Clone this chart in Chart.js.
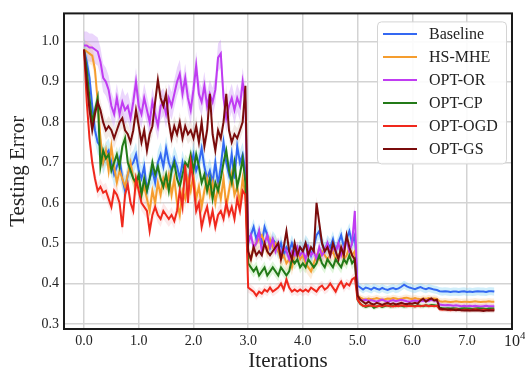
<!DOCTYPE html>
<html>
<head>
<meta charset="utf-8">
<script src="https://cdn.jsdelivr.net/npm/chart.js@4.4.1/dist/chart.umd.min.js"></script>
<style>
html, body { margin: 0; padding: 0; background: #fff; }
#wrap { width: 525px; height: 374px; }
</style>
</head>
<body>
<div id="wrap"><canvas id="errorChart" width="525" height="374"></canvas></div>
<script>
// one sample every 500 iterations, x axis is in units of 1e4
const step = 0.05;
const xTicks = [0, 1, 2, 3, 4, 5, 6, 7];
const yTicks = [0.3, 0.4, 0.5, 0.6, 0.7, 0.8, 0.9, 1.0];

const baseline = [
  0.98, 0.95, 0.91, 0.84, 0.78, 0.75, 0.74, 0.70, 0.72, 0.73,
  0.70, 0.67, 0.69, 0.71, 0.66, 0.63, 0.67, 0.69, 0.70, 0.72,
  0.68, 0.66, 0.69, 0.63, 0.66, 0.68, 0.65, 0.70, 0.72, 0.69,
  0.735, 0.70, 0.68, 0.71, 0.69, 0.66, 0.70, 0.67, 0.64, 0.69,
  0.72, 0.68, 0.70, 0.735, 0.69, 0.66, 0.68, 0.65, 0.70, 0.646,
  0.69, 0.75, 0.70, 0.67, 0.72, 0.66, 0.74, 0.70, 0.72, 0.68,
  0.51, 0.52, 0.54, 0.51, 0.53, 0.50, 0.54, 0.52, 0.49, 0.51,
  0.50, 0.48, 0.50, 0.47, 0.49, 0.48, 0.50, 0.48, 0.47, 0.49,
  0.48, 0.50, 0.49, 0.47, 0.49, 0.52, 0.53, 0.50, 0.48, 0.50,
  0.49, 0.51, 0.48, 0.50, 0.52, 0.49, 0.51, 0.53, 0.50, 0.52,
  0.395, 0.39, 0.385, 0.39, 0.388, 0.385, 0.39, 0.387, 0.385, 0.389,
  0.386, 0.384, 0.387, 0.389, 0.386, 0.388, 0.392, 0.397, 0.393, 0.39,
  0.388, 0.386, 0.389, 0.391, 0.388, 0.386, 0.389, 0.387, 0.385, 0.384,
  0.381, 0.380, 0.381, 0.380, 0.379, 0.380, 0.380, 0.379, 0.380, 0.381,
  0.379, 0.380, 0.379, 0.380, 0.381, 0.380, 0.380, 0.379, 0.381, 0.381,
  0.380
];

const hsMhe = [
  0.98, 0.975, 0.97, 0.965, 0.93, 0.85, 0.76, 0.70, 0.73, 0.68,
  0.74, 0.69, 0.65, 0.68, 0.66, 0.64, 0.67, 0.70, 0.66, 0.64,
  0.66, 0.62, 0.64, 0.61, 0.58, 0.63, 0.60, 0.65, 0.62, 0.66,
  0.64, 0.67, 0.62, 0.66, 0.60, 0.57, 0.63, 0.61, 0.66, 0.63,
  0.67, 0.61, 0.64, 0.59, 0.63, 0.66, 0.62, 0.65, 0.60, 0.64,
  0.61, 0.66, 0.59, 0.63, 0.67, 0.62, 0.64, 0.60, 0.66, 0.62,
  0.47, 0.46, 0.49, 0.50, 0.51, 0.52, 0.50, 0.48, 0.51, 0.49,
  0.50, 0.48, 0.46, 0.47, 0.45, 0.46, 0.44, 0.47, 0.48, 0.46,
  0.47, 0.45, 0.44, 0.43, 0.45, 0.47, 0.46, 0.48, 0.47, 0.46,
  0.47, 0.48, 0.46, 0.47, 0.48, 0.46, 0.47, 0.49, 0.47, 0.48,
  0.37, 0.365, 0.362, 0.36, 0.363, 0.361, 0.362, 0.364, 0.362, 0.36,
  0.361, 0.363, 0.362, 0.364, 0.363, 0.361, 0.362, 0.364, 0.365, 0.363,
  0.362, 0.364, 0.362, 0.361, 0.363, 0.362, 0.364, 0.362, 0.363, 0.362,
  0.356, 0.355, 0.356, 0.355, 0.354, 0.355, 0.356, 0.355, 0.354, 0.355,
  0.355, 0.354, 0.355, 0.356, 0.355, 0.354, 0.355, 0.355, 0.356, 0.355,
  0.355
];

const optOr = [
  0.99, 0.99, 0.985, 0.985, 0.98, 0.975, 0.95, 0.91, 0.90, 0.88,
  0.84, 0.82, 0.86, 0.82, 0.85, 0.83, 0.84, 0.81, 0.85, 0.90,
  0.84, 0.82, 0.86, 0.83, 0.80, 0.85, 0.82, 0.79, 0.84, 0.85,
  0.82, 0.86, 0.84, 0.87, 0.90, 0.92, 0.87, 0.91, 0.86, 0.83,
  0.88, 0.94, 0.87, 0.85, 0.89, 0.84, 0.87, 0.85, 0.88, 0.96,
  0.97, 0.86, 0.81, 0.84, 0.86, 0.83, 0.86, 0.84, 0.90, 0.85,
  0.50, 0.52, 0.49, 0.50, 0.53, 0.48, 0.50, 0.52, 0.49, 0.51,
  0.48, 0.50, 0.47, 0.49, 0.48, 0.46, 0.48, 0.47, 0.49, 0.47,
  0.48, 0.46, 0.49, 0.47, 0.48, 0.46, 0.49, 0.47, 0.48, 0.50,
  0.47, 0.49, 0.48, 0.50, 0.47, 0.49, 0.51, 0.48, 0.50, 0.58,
  0.365, 0.36, 0.358, 0.36, 0.357, 0.359, 0.357, 0.355, 0.358, 0.36,
  0.357, 0.355, 0.357, 0.359, 0.356, 0.358, 0.36, 0.358, 0.356, 0.355,
  0.357, 0.358, 0.356, 0.358, 0.357, 0.359, 0.357, 0.36, 0.358, 0.357,
  0.348, 0.347, 0.346, 0.347, 0.346, 0.345, 0.346, 0.345, 0.344, 0.345,
  0.344, 0.345, 0.344, 0.345, 0.344, 0.343, 0.344, 0.345, 0.344, 0.344,
  0.344
];

const optCp = [
  0.98, 0.93, 0.86, 0.80, 0.83, 0.86, 0.69, 0.73, 0.71, 0.72,
  0.68, 0.70, 0.72, 0.69, 0.74, 0.76, 0.70, 0.68, 0.66, 0.65,
  0.67, 0.62, 0.66, 0.63, 0.66, 0.70, 0.67, 0.69, 0.66, 0.64,
  0.67, 0.63, 0.68, 0.70, 0.66, 0.64, 0.67, 0.70, 0.69, 0.72,
  0.68, 0.72, 0.69, 0.65, 0.67, 0.63, 0.66, 0.61, 0.65, 0.63,
  0.66, 0.70, 0.73, 0.68, 0.65, 0.70, 0.64, 0.67, 0.71, 0.65,
  0.45, 0.44, 0.43, 0.44, 0.42, 0.43, 0.44, 0.42, 0.43, 0.44,
  0.43, 0.42, 0.44, 0.43, 0.42, 0.43, 0.46, 0.45, 0.46, 0.44,
  0.45, 0.44, 0.46, 0.45, 0.44, 0.45, 0.47, 0.45, 0.44, 0.46,
  0.45, 0.44, 0.46, 0.45, 0.44, 0.46, 0.45, 0.47, 0.45, 0.46,
  0.36, 0.35, 0.345, 0.342, 0.344, 0.346, 0.34, 0.343, 0.345, 0.342,
  0.344, 0.346, 0.343, 0.345, 0.344, 0.346, 0.345, 0.343, 0.344, 0.346,
  0.345, 0.344, 0.346, 0.345, 0.344, 0.346, 0.345, 0.347, 0.346, 0.345,
  0.34, 0.339, 0.338, 0.339, 0.338, 0.339, 0.338, 0.337, 0.338, 0.339,
  0.338, 0.338, 0.337, 0.338, 0.339, 0.338, 0.338, 0.337, 0.338, 0.338,
  0.338
];

const optOgd = [
  0.98, 0.85, 0.76, 0.70, 0.66, 0.63, 0.64, 0.625, 0.63, 0.61,
  0.59, 0.63, 0.62, 0.60, 0.54, 0.62, 0.645, 0.60, 0.58, 0.66,
  0.63, 0.60, 0.59, 0.58, 0.53, 0.57, 0.59, 0.57, 0.56, 0.58,
  0.57, 0.56, 0.57, 0.555, 0.58, 0.63, 0.59, 0.695, 0.60, 0.70,
  0.65, 0.58, 0.60, 0.54, 0.57, 0.59, 0.55, 0.58, 0.54, 0.57,
  0.58, 0.56, 0.60, 0.57, 0.59, 0.56, 0.61, 0.58, 0.63, 0.62,
  0.39, 0.385, 0.38, 0.37, 0.38, 0.375, 0.385, 0.38, 0.39, 0.38,
  0.385, 0.39, 0.40, 0.385, 0.41, 0.39, 0.38, 0.385, 0.38, 0.385,
  0.38, 0.385, 0.38, 0.39, 0.385, 0.38, 0.39, 0.395, 0.385, 0.39,
  0.40, 0.39, 0.38, 0.395, 0.405, 0.39, 0.40, 0.395, 0.41, 0.415,
  0.36, 0.35, 0.345, 0.344, 0.346, 0.345, 0.344, 0.343, 0.345, 0.344,
  0.346, 0.345, 0.344, 0.343, 0.345, 0.344, 0.346, 0.345, 0.344, 0.345,
  0.344, 0.343, 0.345, 0.344, 0.345, 0.346, 0.344, 0.345, 0.344, 0.345,
  0.336, 0.335, 0.336, 0.335, 0.334, 0.335, 0.336, 0.335, 0.334, 0.335,
  0.335, 0.334, 0.335, 0.336, 0.335, 0.334, 0.335, 0.335, 0.334, 0.335,
  0.335
];

const optGs = [
  0.98, 0.90, 0.83, 0.78, 0.82, 0.85, 0.83, 0.80, 0.78, 0.79,
  0.78, 0.76, 0.78, 0.80, 0.81, 0.78, 0.77, 0.75, 0.78, 0.83,
  0.79, 0.75, 0.78, 0.73, 0.77, 0.79, 0.85, 0.905, 0.86, 0.84,
  0.87, 0.80, 0.76, 0.79, 0.77, 0.80, 0.76, 0.79, 0.77, 0.78,
  0.76, 0.79, 0.75, 0.80, 0.74, 0.78, 0.87, 0.77, 0.73, 0.78,
  0.76, 0.80, 0.87, 0.78, 0.75, 0.77, 0.76, 0.78, 0.80, 0.89,
  0.48, 0.46, 0.49, 0.47, 0.48, 0.47, 0.50, 0.48, 0.47, 0.48,
  0.49, 0.50, 0.46, 0.49, 0.53, 0.48, 0.46, 0.50, 0.47, 0.49,
  0.48, 0.50, 0.47, 0.49, 0.48, 0.60, 0.55, 0.50, 0.48, 0.49,
  0.47, 0.50, 0.48, 0.46, 0.49, 0.47, 0.52, 0.49, 0.47, 0.46,
  0.37, 0.36, 0.355, 0.35, 0.355, 0.35, 0.348, 0.352, 0.35, 0.347,
  0.35, 0.352, 0.349, 0.351, 0.348, 0.35, 0.352, 0.35, 0.349, 0.351,
  0.35, 0.352, 0.35, 0.358, 0.362, 0.355, 0.36, 0.363, 0.358, 0.36,
  0.338, 0.337, 0.336, 0.335, 0.336, 0.335, 0.334, 0.335, 0.334, 0.333,
  0.334, 0.333, 0.334, 0.333, 0.334, 0.333, 0.332, 0.333, 0.334, 0.333,
  0.333
];

const seriesNames = ["Baseline", "HS-MHE", "OPT-OR", "OPT-CP", "OPT-OGD", "OPT-GS"];
const seriesData = [baseline, hsMhe, optOr, optCp, optOgd, optGs];
const lineColors = ["#3468f2", "#f59d2e", "#c03cf2", "#237a18", "#f0281c", "#7a0c0c"];
const bandColors = [
  "rgba(120,205,240,0.35)", "rgba(245,170,80,0.22)", "rgba(190,120,245,0.3)",
  "rgba(130,220,110,0.25)", "rgba(240,110,110,0.15)", "rgba(150,80,60,0.12)"
];
// half width of the shaded spread in each stage (0-3e4, 3e4-5e4, 5e4-7.5e4)
const bandHalf = [
  [0.03, 0.02, 0.01], [0.025, 0.02, 0.008], [0.035, 0.015, 0.006],
  [0.02, 0.015, 0.006], [0.02, 0.012, 0.006], [0.025, 0.015, 0.006]
];

const iters = baseline.map((_, i) => +(i * step).toFixed(2));
const stageOf = (i) => (i < 60 ? 0 : i < 100 ? 1 : 2);
const serif = "'Liberation Serif', 'Times New Roman', serif";

const datasets = [];
seriesData.forEach((vals, s) => {
    const lower = vals.map((v, i) => ({ x: iters[i], y: v - bandHalf[s][stageOf(i)] }));
    const upper = vals.map((v, i) => ({ x: iters[i], y: v + bandHalf[s][stageOf(i)] }));
    datasets.push({ data: lower, borderWidth: 0, borderColor: "rgba(0,0,0,0)", pointRadius: 0, fill: false, order: 20 });
    datasets.push({ data: upper, borderWidth: 0, borderColor: "rgba(0,0,0,0)", pointRadius: 0, fill: "-1", backgroundColor: bandColors[s], order: 20 });
});
seriesData.forEach((vals, s) => {
    datasets.push({
        label: seriesNames[s],
        data: vals.map((v, i) => ({ x: iters[i], y: v })),
        borderColor: lineColors[s],
        borderWidth: 2,
        pointRadius: 0,
        fill: false,
        order: 10 - s,
    });
});

// legend box inside the plot, frame and the x10^4 multiplier
const decorations = {
    id: "decorations",
    afterDatasetsDraw(chart) {
        const ctx = chart.ctx;
        const area = chart.chartArea;
        const bx = area.right - 135, by = area.top + 8;
        ctx.save();
        ctx.fillStyle = "rgba(255,255,255,0.9)";
        ctx.strokeStyle = "#d4d4d4";
        ctx.lineWidth = 1;
        ctx.beginPath();
        ctx.roundRect(bx + 0.5, by + 0.5, 129, 142, 4);
        ctx.fill();
        ctx.stroke();
        ctx.font = "16px " + serif;
        ctx.textBaseline = "middle";
        seriesNames.forEach((name, s) => {
            const y = by + 12.5 + s * 23;
            ctx.strokeStyle = lineColors[s];
            ctx.lineWidth = 2;
            ctx.beginPath();
            ctx.moveTo(bx + 6, y);
            ctx.lineTo(bx + 40, y);
            ctx.stroke();
            ctx.fillStyle = "#222";
            ctx.fillText(name, bx + 52, y + 1);
        });
        ctx.restore();
    },
    afterDraw(chart) {
        const ctx = chart.ctx;
        const area = chart.chartArea;
        ctx.save();
        ctx.strokeStyle = "#1a1a1a";
        ctx.lineWidth = 2;
        ctx.strokeRect(area.left, area.top, area.right - area.left, area.bottom - area.top);
        ctx.fillStyle = "#222";
        ctx.textBaseline = "alphabetic";
        ctx.font = "16px " + serif;
        ctx.fillText("10", area.right - 8, area.bottom + 17);
        ctx.font = "11px " + serif;
        ctx.fillText("4", area.right + 8, area.bottom + 10);
        ctx.restore();
    },
};

new Chart(document.getElementById("errorChart"), {
    type: "line",
    data: { datasets: datasets },
    options: {
        responsive: false,
        animation: false,
        layout: { padding: { top: 7, right: 13, left: 0, bottom: 0 } },
        plugins: { legend: { display: false }, tooltip: { enabled: false } },
        scales: {
            x: {
                type: "linear",
                min: -0.366,
                max: 7.823,
                afterBuildTicks: (scale) => { scale.ticks = xTicks.map((v) => ({ value: v })); },
                afterFit: (scale) => { scale.height = 45; },
                grid: { color: "#d3d3d3", lineWidth: 1.5, drawTicks: false },
                border: { display: false },
                ticks: {
                    padding: 4,
                    color: "#222",
                    maxRotation: 0,
                    font: { family: serif, size: 14 },
                    callback: (v) => v.toFixed(1),
                },
                title: {
                    display: true,
                    text: "Iterations",
                    color: "#222",
                    font: { family: serif, size: 21 },
                    padding: { top: 0, bottom: 0 },
                },
            },
            y: {
                min: 0.2873,
                max: 1.0696,
                afterBuildTicks: (scale) => { scale.ticks = yTicks.map((v) => ({ value: v })); },
                afterFit: (scale) => { scale.width = 64; },
                grid: { color: "#d3d3d3", lineWidth: 1.5, drawTicks: false },
                border: { display: false },
                ticks: {
                    padding: 5,
                    color: "#222",
                    font: { family: serif, size: 14 },
                    callback: (v) => v.toFixed(1),
                },
                title: {
                    display: true,
                    text: "Testing Error",
                    color: "#222",
                    font: { family: serif, size: 21 },
                    padding: { top: 6, bottom: 0 },
                },
            },
        },
    },
    plugins: [decorations],
});
</script>
</body>
</html>
